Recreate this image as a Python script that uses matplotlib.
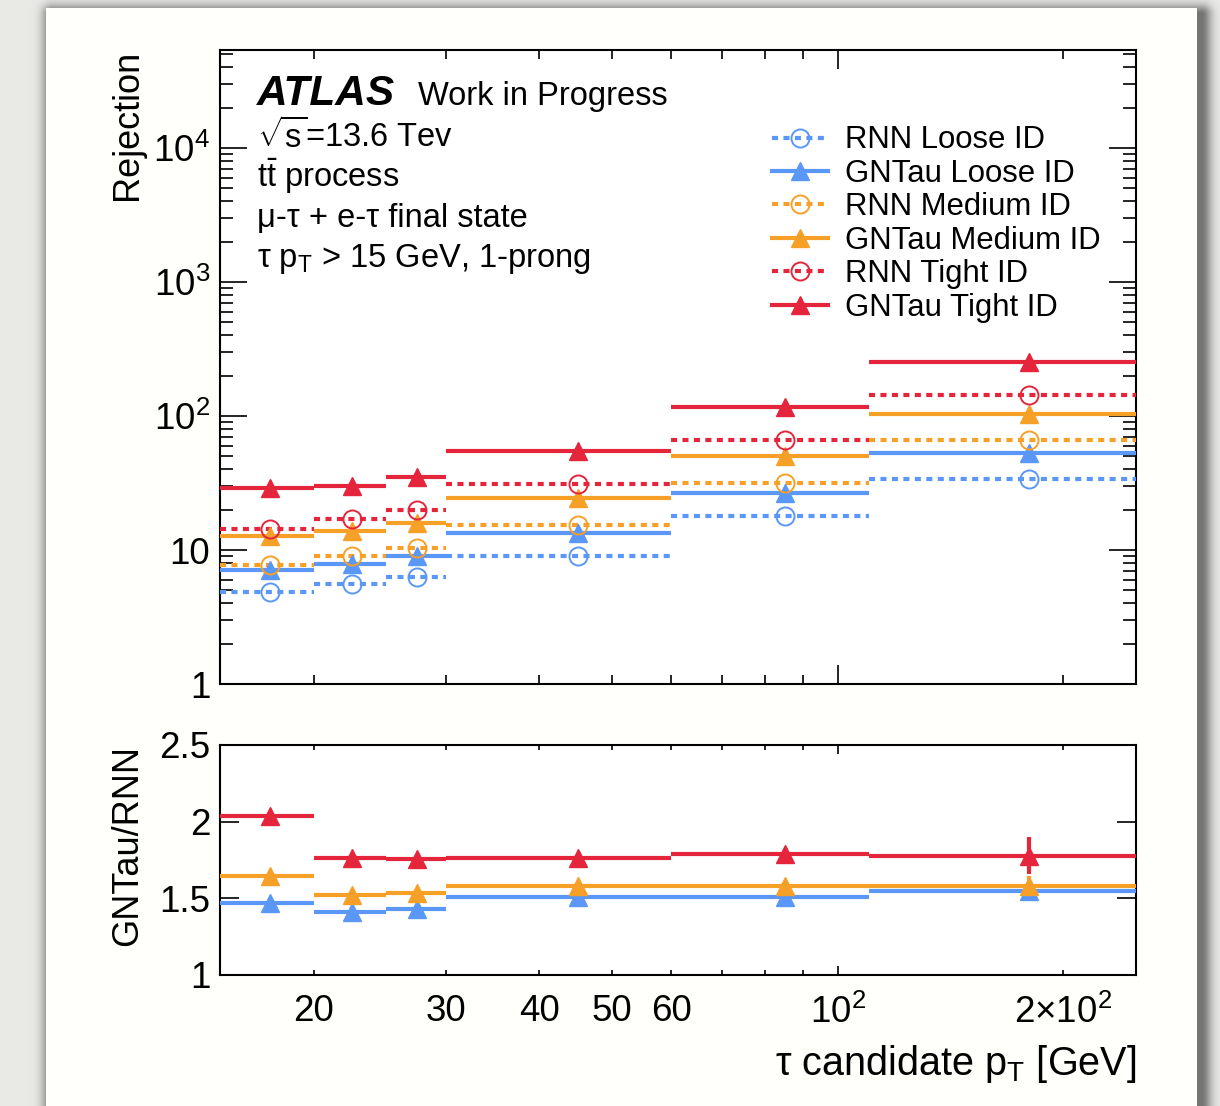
import numpy as np
import matplotlib
matplotlib.use('Agg')
import matplotlib.pyplot as plt
from matplotlib.lines import Line2D
from matplotlib.ticker import FixedLocator, FixedFormatter, LogLocator, NullFormatter

plt.rcParams['font.family'] = ['Liberation Sans', 'DejaVu Sans']
plt.rcParams['mathtext.fontset'] = 'custom'
plt.rcParams['mathtext.rm'] = 'Liberation Sans'
plt.rcParams['mathtext.it'] = 'Liberation Sans:italic'
plt.rcParams['mathtext.bf'] = 'Liberation Sans:bold'

# Bines en pT del tau [GeV]
pt_edges = [15, 20, 25, 30, 60, 110, 250]
pt_centers = [17.5, 22.5, 27.5, 45, 85, 180]

# Rechazo de jets por working point
rnn_loose = [4.83, 5.55, 6.29, 8.97, 17.8, 34.0]
gnt_loose = [7.09, 7.82, 8.97, 13.5, 26.8, 52.7]
rnn_medium = [7.69, 9.02, 10.4, 15.4, 31.8, 65.9]
gnt_medium = [12.7, 13.8, 16.0, 24.3, 50.6, 104]
rnn_tight = [14.3, 17.1, 19.9, 30.9, 65.9, 143]
gnt_tight = [28.8, 30.2, 34.9, 54.5, 117, 253]

# Cociente GNTau/RNN
ratio_loose = [1.47, 1.41, 1.43, 1.507, 1.507, 1.55]
ratio_medium = [1.646, 1.524, 1.535, 1.581, 1.583, 1.578]
ratio_tight = [2.035, 1.765, 1.759, 1.761, 1.789, 1.778]
ratio_loose_err = [0, 0, 0, 0, 0, 0.03]
ratio_medium_err = [0, 0, 0, 0, 0, 0.07]
ratio_tight_err = [0, 0, 0, 0, 0, 0.12]

wp_names = ['Loose', 'Medium', 'Tight']
c_blue = '#5a97f6'
c_orange = '#f7a028'
c_red = '#e4253b'
colors = [c_blue, c_orange, c_red]

W, H = 1220, 1106
def fx(x):
    return x / W
def fy(y):
    return 1 - y / H

fig = plt.figure(figsize=(W / 100, H / 100), dpi=100)
fig.patch.set_facecolor('#e8e8e6')

# Fondo: hoja blanca con sombra
bg = fig.add_axes([0, 0, 1, 1], zorder=-10)
yy, xx = np.mgrid[0:H, 0:W]
dx = np.maximum(np.maximum(52 - xx, xx - 1201), 0)
dy = np.maximum(14 - yy, 0)
d = np.hypot(dx, dy)
shade = np.exp(-(d / 10.0) ** 2)
img = 0.915 * (1 - 0.5 * shade)
card = (xx >= 46) & (xx < 1197) & (yy >= 8)
img[card] = 1.0
bg.imshow(np.dstack([img, img, img * 0.99]), aspect='auto', interpolation='bilinear')
bg.axis('off')

ax = fig.add_axes([fx(220), fy(684), (1136 - 220) / W, (684 - 50) / H])
axr = fig.add_axes([fx(220), fy(975), (1136 - 220) / W, (975 - 745) / H])

lw = 3.0
dots = (0, (1.45, 1.3))
ms_tri = 13
ms_circ = 13
lo = np.array(pt_edges[:-1])
hi = np.array(pt_edges[1:])

series = [(rnn_loose, gnt_loose), (rnn_medium, gnt_medium), (rnn_tight, gnt_tight)]
handles = []
labels = []
for (rnn, gnt), c, wp in zip(series, colors, wp_names):
    ax.hlines(rnn, lo, hi, colors=c, linewidth=lw, linestyles=[dots], zorder=3)
    ax.plot(pt_centers, rnn, ls='none', marker='o', ms=ms_circ, mfc='none', mec=c, mew=1.4, zorder=4)
    ax.hlines(gnt, lo, hi, colors=c, linewidth=lw, zorder=3)
    ax.plot(pt_centers, gnt, ls='none', marker='^', ms=ms_tri, color=c, zorder=4)
    handles.append(Line2D([], [], color=c, lw=lw, ls=dots, marker='o', ms=ms_circ, mfc='none', mec=c, mew=1.4))
    labels.append('RNN %s ID' % wp)
    handles.append(Line2D([], [], color=c, lw=lw, marker='^', ms=ms_tri))
    labels.append('GNTau %s ID' % wp)

ratios = [(ratio_loose, ratio_loose_err), (ratio_medium, ratio_medium_err), (ratio_tight, ratio_tight_err)]
for (r, e), c in zip(ratios, colors):
    axr.hlines(r, lo, hi, colors=c, linewidth=lw, zorder=3)
    axr.errorbar(pt_centers, r, yerr=e, fmt='^', ms=ms_tri, color=c, elinewidth=lw, capsize=0, zorder=4)

# Ejes
for a in (ax, axr):
    a.set_xscale('log')
    a.set_xlim(15, 250)
    a.xaxis.set_major_locator(FixedLocator([100]))
    a.xaxis.set_minor_locator(FixedLocator([20, 30, 40, 50, 60, 70, 80, 90, 200]))
    a.tick_params(which='both', direction='in', top=True, right=True, width=1.2, labelsize=26.5)
    for s in a.spines.values():
        s.set_linewidth(1.5)

ax.set_yscale('log')
ax.set_ylim(1, 5.4e4)
ax.yaxis.set_major_locator(FixedLocator([1, 10, 100, 1000, 10000]))
ax.yaxis.set_major_formatter(FixedFormatter(['1', '10', r'$10^{2}$', r'$10^{3}$', r'$10^{4}$']))
ax.yaxis.set_minor_locator(LogLocator(base=10, subs=np.arange(2, 10)))
ax.yaxis.set_minor_formatter(NullFormatter())
ax.xaxis.set_major_formatter(NullFormatter())
ax.xaxis.set_minor_formatter(NullFormatter())
ax.tick_params(axis='x', which='major', length=13.5)
ax.tick_params(axis='x', which='minor', length=6.5)
ax.tick_params(axis='y', which='major', length=19.5, pad=7)
ax.tick_params(axis='y', which='minor', length=9.5)

axr.set_ylim(1, 2.5)
axr.yaxis.set_major_locator(FixedLocator([1, 1.5, 2, 2.5]))
axr.yaxis.set_major_formatter(FixedFormatter(['1', '1.5', '2', '2.5']))
axr.tick_params(axis='y', which='major', length=13.5, pad=7)
axr.tick_params(axis='y', which='minor', length=0)
axr.xaxis.set_major_formatter(FixedFormatter([r'$10^{2}$']))
axr.xaxis.set_minor_formatter(FixedFormatter(['20', '30', '40', '50', '60', '', '', '', r'$2{\times}10^{2}$']))
axr.tick_params(axis='x', which='major', length=6.5, pad=14)
axr.tick_params(axis='x', which='minor', length=3.5, pad=14, labelsize=26.5)

fig.text(fx(128), fy(50), 'Rejection', rotation=90, ha='center', va='top', fontsize=26)
fig.text(fx(128), fy(745), 'GNTau/RNN', rotation=90, ha='center', va='top', fontsize=26)
fig.text(fx(1136), fy(1075), r'τ candidate $\mathregular{p_{T}}$ [GeV]', ha='right', va='baseline', fontsize=28.5)

# Etiqueta ATLAS y descripcion
fig.text(fx(257), fy(105), 'ATLAS', fontsize=30.5, fontweight='bold', fontstyle='italic', va='baseline')
fig.text(fx(418), fy(105), 'Work in Progress', fontsize=23.5, va='baseline')
info = [r'$\sqrt{\mathregular{s}}$=13.6 Tev', r'$\mathregular{t\bar{t}}$ process', 'μ-τ + e-τ final state',
        r'τ $\mathregular{p_{T}}$ > 15 GeV, 1-prong']
for i, t in enumerate(info):
    fig.text(fx(257), fy(148 + 39.5 * i), t, fontsize=23.5, va='baseline')

ax.legend(handles, labels, loc='upper left', bbox_to_anchor=(fx(772), fy(125.5)),
          bbox_transform=fig.transFigure, frameon=False, fontsize=22.4,
          handlelength=1.8, handletextpad=0.55, labelspacing=0.11,
          borderpad=0, borderaxespad=0)

fig.savefig('out.png', dpi=100, facecolor=fig.get_facecolor())
